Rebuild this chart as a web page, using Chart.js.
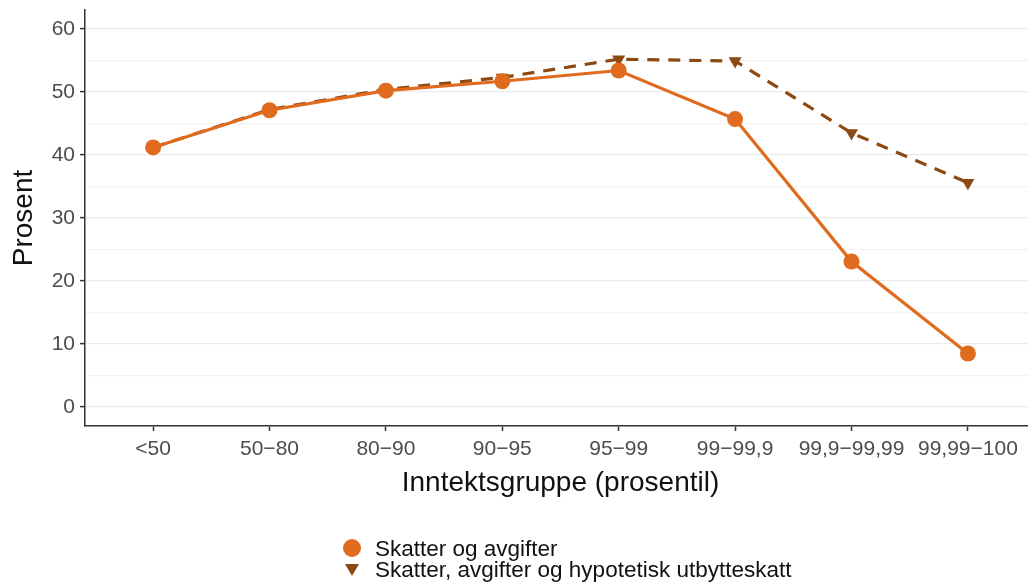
<!DOCTYPE html>
<html>
<head>
<meta charset="utf-8">
<script src="https://cdn.jsdelivr.net/npm/chart.js@4"></script>
<style>
  html, body { margin: 0; padding: 0; background: #fff; overflow: hidden; }
  #wrap { position: relative; width: 1028px; height: 583px; overflow: hidden; }
  #legend { position: absolute; left: 340px; top: 538px; font-family: "Liberation Sans", Arial, sans-serif; font-size: 22.5px; color: #111; line-height: 21px; }
  #legend div { display: flex; align-items: center; height: 21px; }
  #legend .mark { width: 24px; height: 21px; position: relative; margin-right: 11px; }
  #legend .dot { position: absolute; left: 3px; top: 1px; width: 18px; height: 18px; border-radius: 50%; background: #e06a1e; }
  #legend .tri { position: absolute; left: 5px; top: 5px; width: 0; height: 0; border-left: 7px solid transparent; border-right: 7px solid transparent; border-top: 12px solid #8c4a12; }
</style>
</head>
<body>
<div id="wrap">
  <canvas id="chart" width="1044" height="583"></canvas>
  <div id="legend">
    <div><span class="mark"><span class="dot"></span></span>Skatter og avgifter</div>
    <div><span class="mark"><span class="tri"></span></span>Skatter, avgifter og hypotetisk utbytteskatt</div>
  </div>
</div>
<script>
// Data
const categories = ["<50", "50\u221280", "80\u221290", "90\u221295", "95\u221299", "99\u221299,9", "99,9\u221299,99", "99,99\u2212100"];
const skatterOgAvgifter = [41.2, 47.1, 50.2, 51.7, 53.4, 45.7, 23.1, 8.5];
const medUtbytteskatt = [41.2, 47.2, 50.4, 52.3, 55.2, 54.9, 43.5, 35.6];
const yTicks = [0, 5, 10, 15, 20, 25, 30, 35, 40, 45, 50, 55, 60];

const orange = "#e06a1e";
const brown = "#8c4a12";
const font = "'Liberation Sans', Arial, sans-serif";

function toPoints(values) {
  return values.map((v, i) => ({ x: i, y: v }));
}

function noPad(s) {
  s.paddingLeft = 0;
  s.paddingRight = 0;
  s.paddingTop = 0;
  s.paddingBottom = 0;
}

new Chart(document.getElementById("chart"), {
  type: "line",
  data: {
    datasets: [
      {
        label: "Skatter og avgifter",
        data: toPoints(skatterOgAvgifter),
        borderColor: orange,
        backgroundColor: orange,
        borderWidth: 3.2,
        pointStyle: "circle",
        pointRadius: 8,
        pointBorderWidth: 0,
        tension: 0,
      },
      {
        label: "Skatter, avgifter og hypotetisk utbytteskatt",
        data: toPoints(medUtbytteskatt),
        borderColor: brown,
        backgroundColor: brown,
        borderWidth: 3.2,
        borderDash: [12, 9],
        pointStyle: "triangle",
        rotation: 180,
        pointRadius: 7.5,
        pointBorderWidth: 0,
        tension: 0,
      },
    ],
  },
  options: {
    responsive: false,
    animation: false,
    layout: { padding: { top: 10, left: 0, right: 0, bottom: 70 } },
    plugins: {
      legend: { display: false },
      tooltip: { enabled: false },
    },
    scales: {
      x: {
        type: "linear",
        min: -0.585,
        max: 7.585,
        afterFit: (s) => { s.height = 87; noPad(s); },
        afterBuildTicks: (s) => { s.ticks = categories.map((c, i) => ({ value: i })); },
        ticks: {
          callback: (v) => categories[v],
          color: "#4d4d4d",
          font: { family: font, size: 21 },
          padding: 6,
          maxRotation: 0,
          autoSkip: false,
        },
        grid: { drawOnChartArea: false, drawTicks: true, tickLength: 5, tickColor: "#333", tickWidth: 1.5 },
        border: { display: true, color: "#333", width: 1.5 },
        title: {
          display: true,
          text: "Inntektsgruppe (prosentil)",
          color: "#111",
          font: { family: font, size: 28 },
          padding: { top: 0, bottom: 13 },
        },
      },
      y: {
        min: -3,
        max: 63,
        afterFit: (s) => { s.width = 85; noPad(s); },
        afterBuildTicks: (s) => { s.ticks = yTicks.map((v) => ({ value: v })); },
        ticks: {
          callback: (v) => (v % 10 === 0 ? v : ""),
          color: "#4d4d4d",
          font: { family: font, size: 21 },
          padding: 5,
        },
        grid: {
          color: (ctx) => (ctx.tick && ctx.tick.value % 10 === 0 ? "#ebebeb" : "#f2f2f2"),
          lineWidth: 1.2,
          drawTicks: true,
          tickLength: 5,
          tickColor: (ctx) => (ctx.tick && ctx.tick.value % 10 === 0 ? "#333" : "rgba(0,0,0,0)"),
          tickWidth: 1.5,
        },
        border: { display: true, color: "#333", width: 1.5 },
        title: {
          display: true,
          text: "Prosent",
          color: "#111",
          font: { family: font, size: 28 },
          padding: { top: 7, bottom: 0 },
        },
      },
    },
  },
});
</script>
</body>
</html>
